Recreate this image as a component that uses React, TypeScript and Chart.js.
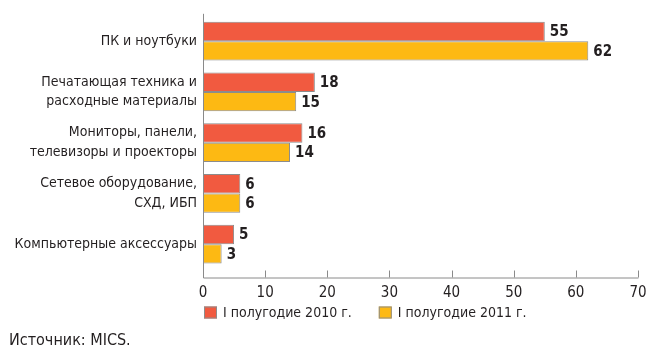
import React, { useEffect, useRef } from "react";
import { Chart, registerables } from "chart.js";

Chart.register(...registerables);

const categories: string[][] = [
  ["ПК и ноутбуки"],
  ["Печатающая техника и", "расходные материалы"],
  ["Мониторы, панели,", "телевизоры и проекторы"],
  ["Сетевое оборудование,", "СХД, ИБП"],
  ["Компьютерные аксессуары"],
];
const values2010 = [55, 18, 16, 6, 5];
const values2011 = [62, 15, 14, 6, 3];
const seriesLabels = ["I полугодие 2010 г.", "I полугодие 2011 г."];
const xMin = 0;
const xMax = 70;
const xStep = 10;
const sourceText = "Источник: MICS.";

const FONT = '"DejaVu Sans Condensed", "Liberation Sans", sans-serif';
const TEXT = "#231f20";
const AXIS = "#8a8a8a";
const RED = "#f15a40";
const YELLOW = "#fdb913";
const BORDER = "#8c8c8c";

const decorPlugin = {
  id: "decor",
  afterDraw(chart: any) {
    const ctx = chart.ctx;
    const { left, right, top, bottom } = chart.chartArea;
    const axisY = bottom + 8;
    const xs = chart.scales.x;
    ctx.save();
    ctx.strokeStyle = AXIS;
    ctx.lineWidth = 1;
    ctx.beginPath();
    ctx.moveTo(left + 0.5, top - 2);
    ctx.lineTo(left + 0.5, axisY + 0.5);
    ctx.lineTo(right + 0.5, axisY + 0.5);
    ctx.stroke();
    xs.ticks.forEach((t: any) => {
      const px = Math.round(xs.getPixelForValue(t.value)) + 0.5;
      ctx.beginPath();
      ctx.moveTo(px, axisY);
      ctx.lineTo(px, axisY - 7);
      ctx.stroke();
    });

    // value labels
    ctx.fillStyle = TEXT;
    ctx.font = `bold 15px ${FONT}`;
    ctx.textBaseline = "middle";
    ctx.textAlign = "left";
    chart.data.datasets.forEach((ds: any, i: number) => {
      const meta = chart.getDatasetMeta(i);
      meta.data.forEach((bar: any, j: number) => {
        ctx.fillText(String(ds.data[j]), bar.x + 5, bar.y + 1);
      });
    });

    // legend
    ctx.font = `14px ${FONT}`;
    let lx = left + 1;
    const ly = axisY + 35;
    chart.data.datasets.forEach((ds: any) => {
      ctx.fillStyle = ds.backgroundColor;
      ctx.fillRect(lx, ly - 6, 13, 12);
      ctx.strokeStyle = BORDER;
      ctx.strokeRect(lx + 0.5, ly - 5.5, 12, 11);
      ctx.fillStyle = TEXT;
      ctx.fillText(ds.label, lx + 19, ly + 1);
      lx += 19 + ctx.measureText(ds.label).width + 27;
    });

    // source
    ctx.font = `16px ${FONT}`;
    ctx.textBaseline = "alphabetic";
    ctx.fillText(sourceText, 9, chart.height - 12);
    ctx.restore();
  },
};

export default function App() {
  const ref = useRef<HTMLCanvasElement | null>(null);
  useEffect(() => {
    if (!ref.current) return;
    const chart = new Chart(ref.current, {
      type: "bar",
      data: {
        labels: categories,
        datasets: [
          {
            label: seriesLabels[0],
            data: values2010,
            backgroundColor: RED,
            borderColor: BORDER,
            borderWidth: 1,
            borderSkipped: false,
            categoryPercentage: 0.765,
            barPercentage: 1,
          },
          {
            label: seriesLabels[1],
            data: values2011,
            backgroundColor: YELLOW,
            borderColor: BORDER,
            borderWidth: 1,
            borderSkipped: false,
            categoryPercentage: 0.765,
            barPercentage: 1,
          },
        ],
      },
      options: {
        indexAxis: "y",
        responsive: false,
        animation: false,
        devicePixelRatio: 1,
        layout: { padding: { top: 14, right: 0, left: 0, bottom: 0 } },
        plugins: {
          legend: { display: false },
          tooltip: { enabled: false },
        },
        scales: {
          x: {
            min: xMin,
            max: xMax,
            grid: { display: false, drawTicks: false },
            border: { display: false },
            ticks: {
              stepSize: xStep,
              padding: 15,
              color: TEXT,
              font: { family: FONT, size: 15 },
            },
            afterFit(scale: any) {
              scale.height = 87.5;
              scale.paddingRight = 12;
            },
          },
          y: {
            grid: { display: false, drawTicks: false },
            border: { display: false },
            ticks: {
              padding: 6,
              color: TEXT,
              font: { family: FONT, size: 14, lineHeight: 1.4 },
            },
            afterFit(scale: any) {
              scale.width = 203;
            },
          },
        },
      },
      plugins: [decorPlugin],
    } as any);
    return () => chart.destroy();
  }, []);
  return (
    <div style={{ position: "absolute", left: 0, top: 0, width: 650, height: 357, background: "#fff" }}>
      <canvas ref={ref} width={650} height={357} style={{ display: "block" }} />
    </div>
  );
}
